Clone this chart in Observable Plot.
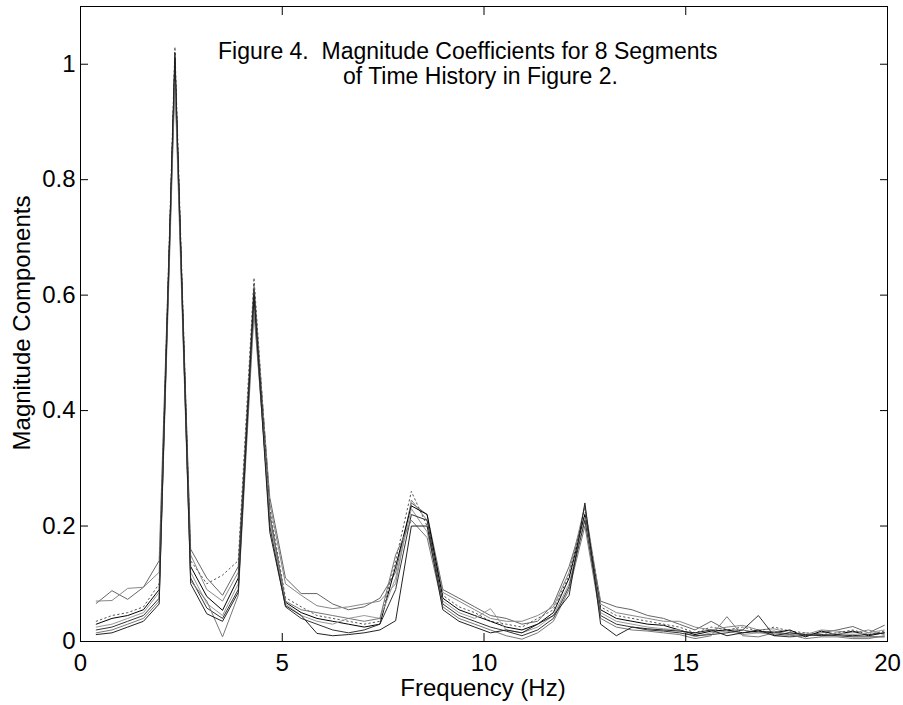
<!DOCTYPE html>
<html><head><meta charset="utf-8">
<script src="https://cdn.jsdelivr.net/npm/d3@7"></script>
<script src="https://cdn.jsdelivr.net/npm/@observablehq/plot@0.6"></script>
<style>
body{margin:0;background:#fff;font-family:"Liberation Sans",Arial,sans-serif;}
#wrap{position:relative;width:903px;height:705px;}
.t{position:absolute;font-size:23px;color:#000;white-space:nowrap;line-height:1;}
</style></head><body><div id="wrap"></div>
<script>
const titleLines = ["Figure 4.\u00a0 Magnitude Coefficients for 8 Segments", "of Time History in Figure 2."];
const xLabel = "Frequency (Hz)";
const yLabel = "Magnitude Components";
const xTicks = [0, 5, 10, 15, 20];
const xTickLabels = ["0", "5", "10", "15", "20"];
const yTicks = [0, 0.2, 0.4, 0.6, 0.8, 1];
const yTickLabels = ["0", "0.2", "0.4", "0.6", "0.8", "1"];

const freqs = [0.39, 0.78, 1.17, 1.56, 1.95, 2.34, 2.73, 3.13, 3.52, 3.91, 4.30, 4.69, 5.08, 5.47, 5.86, 6.25, 6.64, 7.03, 7.42, 7.81, 8.20, 8.59, 8.98, 9.38, 9.77, 10.16, 10.55, 10.94, 11.33, 11.72, 12.11, 12.50, 12.89, 13.28, 13.67, 14.06, 14.45, 14.84, 15.23, 15.63, 16.02, 16.41, 16.80, 17.19, 17.58, 17.97, 18.36, 18.75, 19.14, 19.53, 19.92];

const seg1 = [0.066,0.088,0.073,0.094,0.14,1.0,0.16,0.11,0.08,0.13, 0.6,0.25,0.11,0.083,0.083,0.065,0.055,0.06,0.075,0.12, 0.24,0.22,0.09,0.075,0.06,0.045,0.04,0.03,0.035,0.065, 0.13,0.22,0.07,0.06,0.055,0.045,0.04,0.03,0.02,0.035, 0.02,0.02,0.015,0.018,0.012,0.01,0.015,0.02,0.026,0.015,0.028];
const seg2 = [0.07,0.071,0.092,0.094,0.12,0.98,0.15,0.09,0.07,0.12, 0.62,0.24,0.1,0.08,0.062,0.057,0.06,0.065,0.07,0.1, 0.245,0.21,0.085,0.07,0.055,0.04,0.035,0.035,0.045,0.06, 0.12,0.235,0.065,0.05,0.045,0.04,0.035,0.035,0.025,0.02, 0.025,0.028,0.02,0.022,0.015,0.012,0.02,0.018,0.015,0.02,0.012];
const seg3 = [0.035,0.045,0.05,0.06,0.1,1.03,0.14,0.1,0.115,0.14, 0.63,0.23,0.076,0.06,0.045,0.04,0.035,0.03,0.035,0.14, 0.26,0.2,0.08,0.06,0.05,0.035,0.03,0.025,0.04,0.055, 0.115,0.23,0.06,0.045,0.04,0.035,0.03,0.025,0.015,0.025, 0.02,0.025,0.018,0.025,0.018,0.015,0.012,0.015,0.02,0.012,0.018];
const seg4 = [0.03,0.04,0.045,0.055,0.09,1.01,0.13,0.078,0.054,0.11, 0.59,0.22,0.068,0.05,0.04,0.035,0.03,0.025,0.03,0.13, 0.235,0.22,0.075,0.055,0.045,0.035,0.025,0.02,0.03,0.05, 0.11,0.22,0.055,0.04,0.035,0.03,0.028,0.02,0.012,0.018, 0.02,0.015,0.018,0.015,0.02,0.008,0.018,0.012,0.018,0.01,0.015];
const seg5 = [0.025,0.03,0.04,0.05,0.085,0.99,0.12,0.066,0.045,0.1, 0.58,0.21,0.065,0.045,0.035,0.03,0.04,0.045,0.04,0.11, 0.23,0.19,0.07,0.05,0.04,0.057,0.02,0.015,0.025,0.045, 0.1,0.215,0.05,0.035,0.03,0.025,0.022,0.02,0.008,0.015, 0.018,0.012,0.015,0.012,0.01,0.015,0.01,0.015,0.012,0.015,0.02];
const seg6 = [0.02,0.025,0.035,0.045,0.075,1.0,0.11,0.058,0.04,0.09, 0.61,0.2,0.06,0.04,0.03,0.02,0.015,0.02,0.03,0.09, 0.22,0.21,0.065,0.045,0.035,0.025,0.018,0.01,0.02,0.04, 0.095,0.21,0.045,0.03,0.025,0.02,0.018,0.015,0.01,0.012, 0.015,0.02,0.045,0.01,0.008,0.01,0.012,0.01,0.008,0.008,0.008];
const seg7 = [0.015,0.02,0.03,0.04,0.07,0.97,0.105,0.07,0.008,0.08, 0.57,0.22,0.07,0.055,0.05,0.045,0.04,0.035,0.04,0.15, 0.21,0.18,0.06,0.04,0.03,0.02,0.01,0.004,0.015,0.035, 0.09,0.2,0.04,0.025,0.02,0.018,0.015,0.012,0.005,0.01, 0.043,0.01,0.008,0.015,0.012,0.005,0.008,0.008,0.005,0.005,0.01];
const seg8 = [0.012,0.015,0.025,0.035,0.065,1.02,0.1,0.048,0.035,0.085, 0.6,0.19,0.062,0.045,0.014,0.01,0.012,0.015,0.02,0.036, 0.2,0.2,0.055,0.035,0.025,0.015,0.02,0.015,0.03,0.045, 0.08,0.24,0.03,0.01,0.025,0.022,0.02,0.018,0.015,0.02, 0.01,0.015,0.02,0.01,0.015,0.012,0.01,0.012,0.01,0.012,0.015];

const segments = [seg1, seg2, seg3, seg4, seg5, seg6, seg7, seg8];
const segColors = ["#666", "#888", "#555", "#000", "#999", "#333", "#777", "#222"];
const segDash = [null, null, "1.5,3", null, null, null, null, null];

const lineMarks = segments.map((vals, i) =>
  Plot.line(freqs.map((f, j) => ({f, m: vals[j]})), {
    x: "f", y: "m", stroke: segColors[i], strokeWidth: 1,
    strokeDasharray: segDash[i] || undefined
  })
);

const plot = Plot.plot({
  width: 903, height: 705,
  marginLeft: 80, marginRight: 16, marginTop: 6, marginBottom: 64,
  style: {fontFamily: "Liberation Sans, Arial, sans-serif", fontSize: "24px", color: "#000", background: "#fff"},
  x: {domain: [0, 20]},
  y: {domain: [0, 1.1]},
  marks: [
    ...lineMarks,
    Plot.frame({stroke: "#000"}),
    Plot.axisX({anchor: "bottom", ticks: xTicks, tickSize: -8, tickPadding: 20, label: null, tickFormat: (d, i) => xTickLabels[i], fontSize: 24}),
    Plot.axisX({anchor: "top", ticks: xTicks, tickSize: -8, tickFormat: () => "", label: null}),
    Plot.axisY({anchor: "left", ticks: yTicks, tickSize: -8, tickPadding: 13, label: null, tickFormat: (d, i) => yTickLabels[i], fontSize: 24}),
    Plot.axisY({anchor: "right", ticks: yTicks, tickSize: -8, tickFormat: () => "", label: null})
  ]
});

const wrap = document.getElementById("wrap");
wrap.appendChild(plot);
function addText(txt, css) {
  const d = document.createElement("div");
  d.className = "t";
  d.textContent = txt;
  Object.assign(d.style, css);
  wrap.appendChild(d);
}
addText(titleLines[0], {left: "218px", top: "40px"});
addText(titleLines[1], {left: "343px", top: "65px"});
addText(xLabel, {left: "483px", top: "676px", fontSize: "24px", transform: "translateX(-50%)"});
addText(yLabel, {left: "22px", top: "323px", fontSize: "24px", transform: "translate(-50%,-50%) rotate(-90deg)"});
</script></body></html>
